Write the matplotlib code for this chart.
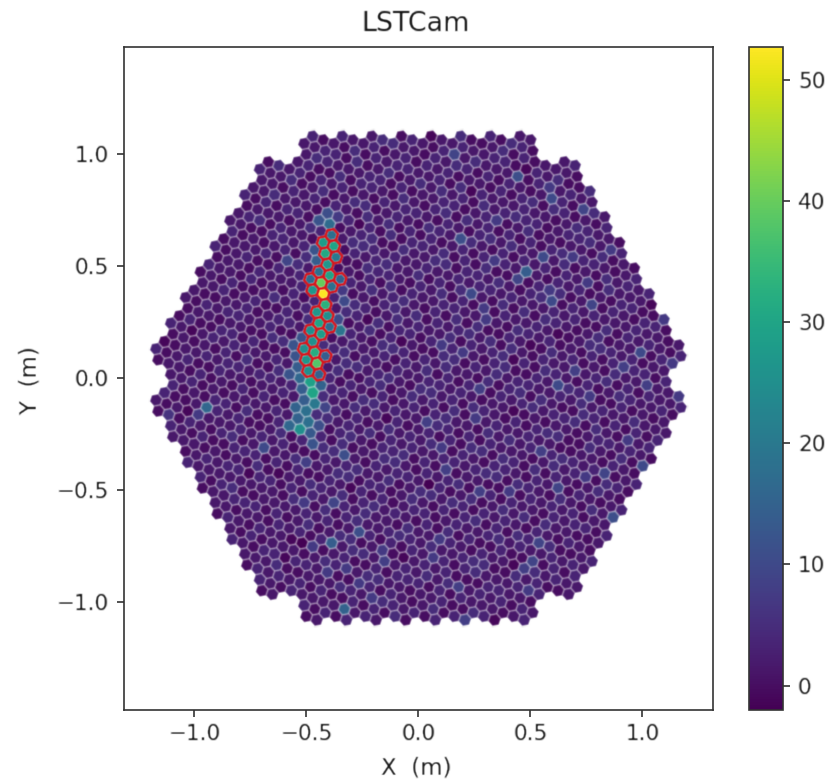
# LSTCam camera image: pixel charges on the hexagonal module layout
import numpy as np
import matplotlib
matplotlib.use("Agg")
import matplotlib.pyplot as plt
from matplotlib.collections import PatchCollection
from matplotlib.patches import RegularPolygon
from matplotlib.text import Text

# background charge per module row (top to bottom), 7 pixels per module, digit = charge / 1.6 + 2
row_p9 = "3424335 2534342 4253324 3342534 2435324 4325343 3524234 4233524"
row_p8 = ("3352433 4243352 2534243 3425324 5243342 3342435 4253342 2435433 "
          "3524324 4332524 3243352")
row_p7 = ("2433423 3342524 4253332 3524243 2434352 5324234 3453324 4235342 "
          "3342453 4523234 2434325 3352423")
row_p6 = ("3243342 2433524 3524233 4235342 3452434 5243325 2534342 4325243 "
          "3443524 2354324 4233452 3524234 2435343")
row_p5 = ("2332423 3423342 4234324 3542453 2453342 4325534 5342243 3524435 "
          "4253324 2435342 3342524 4523243 3254324 3423352")
row_p4 = ("3234233 2423342 3342423 4235334 3524253 2452343 4335425 5243324 "
          "3425342 4352434 2534253 3243524 4325243 2534342 3423234")
row_p3 = ("2423323 3324234 4232342 3342524 4253243 3524435 2435342 5342453 "
          "3453324 4235243 2534352 3342425 4253534 3524243 2435324 3243342")
row_p2 = ("3342423 2423234 3234342 4243325 3352424 4523342 3534243 2453524 "
          "4325342 3452435 5243253 2534324 4352343 3243452 2534235 3423324 4232433")
row_p1 = ("2323423 3432342 4243234 3324352 2435243 4353324 5243435 3452343 "
          "4235524 2534243 3342452 4525324 3243534 5324243 2453342 4332524 3243342 2432343")
row_0 = ("3423342 2342423 3234324 4352433 3524342 4253534 2435243 5342452 "
         "3453325 4235243 2534342 3425524 4352243 3243435 4523342 3342524 2433423")
row_m1 = ("2324324 3423234 4232443 3342352 2534243 4253425 3524342 5342534 "
          "3453243 4235324 2534452 3342243 4525342 3243534 5324325 2453243 3342423 3423342")
row_m2 = ("3242433 2433342 4324352 3542243 4253524 2435342 3524453 5342324 "
          "3453243 4235524 2534342 3342435 4523243 3254352 5324234 2453423 3332324")
row_m3 = ("3423243 2342334 4233425 3524342 2453243 4325534 3542324 5243453 "
          "3425342 4352243 2534524 3243342 4523435 3352243 2534324 3243423")
row_m4 = ("2433423 3324352 4252433 3524342 4353243 2435524 5243342 3342435 "
          "4523342 3254324 2534523 4325243 3243452 2534335 3423242")
row_m5 = ("3243324 4232433 3352342 2534243 4325324 5342453 3453243 2435342 "
          "4253524 3524243 3342435 4352324 2534342 3423234")
row_m6 = ("2423343 3342423 4253334 3524243 2435352 4523324 3342543 5243234 "
          "3425342 2534453 4352243 3243324 2433423")
row_m7 = ("3342324 2433452 3524243 4253342 3243524 5342234 2435343 4523324 "
          "3342452 2534243 4325324 3423243")
row_m8 = ("3243423 4232343 3524342 2453243 3342524 4253423 5324342 2435234 "
          "3452343 4235324 3342423")
row_m9 = "2433423 3342324 4253243 3423452 5243324 2534243 3243342 4323234"
module_rows = [row_p9, row_p8, row_p7, row_p6, row_p5, row_p4, row_p3, row_p2, row_p1, row_0,
               row_m1, row_m2, row_m3, row_m4, row_m5, row_m6, row_m7, row_m8, row_m9]
row_ids = list(range(9, -10, -1))

# selected (cleaned) pixels: module row, module in row, pixel in module, charge
core_pixels = [
    (6, 3, 6, 18), (5, 3, 2, 28), (5, 4, 4, 30), (5, 3, 1, 31), (5, 4, 5, 20), (4, 4, 3, 27),
    (4, 4, 4, 18), (4, 4, 0, 30), (4, 4, 1, 15), (4, 3, 1, 17), (4, 4, 5, 40), (4, 4, 6, 18),
    (3, 4, 3, 27), (3, 4, 2, 52.7), (3, 4, 1, 33), (3, 4, 6, 27), (2, 5, 3, 25), (2, 5, 4, 30),
    (2, 5, 0, 17), (2, 4, 1, 25), (2, 5, 5, 28), (1, 5, 3, 25), (1, 5, 4, 25), (1, 5, 0, 32),
    (1, 5, 1, 14), (1, 5, 5, 27), (1, 5, 6, 38), (0, 4, 2, 25), (0, 5, 4, 15),
]
# brighter pixels outside the selection
tail_pixels = [
    (6, 3, 0, 17), (6, 3, 3, 11), (6, 3, 4, 12), (6, 3, 2, 7), (5, 3, 0, 12), (5, 3, 6, 14),
    (5, 2, 6, 9), (3, 5, 0, 10), (3, 5, 3, 7), (2, 5, 1, 19), (2, 5, 2, 10), (2, 4, 6, 12),
    (1, 4, 2, 12), (1, 4, 1, 12), (0, 4, 3, 14), (0, 4, 4, 12), (0, 4, 1, 29), (-1, 5, 3, 30),
    (0, 5, 5, 15), (0, 4, 6, 14), (0, 4, 0, 16), (-1, 5, 0, 20), (-1, 5, 4, 14), (-1, 4, 1, 15),
    (-1, 5, 5, 18), (-1, 5, 1, 9), (-2, 4, 3, 15), (-2, 4, 2, 18), (-2, 4, 0, 25), (-2, 4, 4, 16),
    (-2, 4, 1, 13), (-2, 5, 4, 11), (-3, 4, 3, 12),
]
spot_pixels = [
    (-1, 1, 1, 16), (-1, 1, 6, 7), (-1, 0, 6, 6), (-3, 2, 2, 10), (-3, 5, 0, 11), (-3, 4, 5, 8),
    (-5, 4, 4, 9), (-5, 3, 4, 7), (-6, 4, 0, 11), (-6, 3, 6, 14), (-7, 2, 3, 7), (-7, 4, 1, 8),
    (-7, 4, 2, 7), (-8, 3, 0, 7), (-7, 3, 6, 7), (-8, 2, 3, 7), (-9, 1, 0, 15), (-9, 2, 3, 7),
    (9, 5, 5, 9), (8, 8, 1, 11), (7, 10, 0, 10), (7, 10, 3, 7), (7, 11, 6, 9), (5, 8, 3, 11),
    (6, 9, 4, 7), (5, 11, 5, 10), (5, 12, 5, 7), (5, 9, 6, 7), (4, 11, 4, 14), (4, 10, 1, 9),
    (3, 12, 3, 7), (3, 12, 0, 10), (3, 9, 2, 10), (3, 13, 1, 9), (3, 10, 5, 7), (2, 10, 2, 7),
    (2, 16, 2, 7), (1, 16, 0, 10), (0, 15, 3, 8), (1, 17, 6, 7), (0, 13, 2, 8), (1, 9, 2, 7),
    (1, 10, 0, 7), (4, 13, 5, 7), (5, 13, 0, 7), (0, 13, 5, 10), (0, 10, 6, 8), (0, 16, 5, 8),
    (-1, 17, 2, 7), (-1, 14, 2, 7), (-2, 8, 2, 8), (-2, 10, 3, 7), (-2, 15, 6, 7), (-3, 8, 2, 7),
    (-3, 12, 4, 8), (-4, 13, 2, 9), (-4, 13, 4, 7), (-3, 15, 6, 10), (-4, 8, 3, 8),
    (-4, 12, 5, 9), (-4, 9, 6, 8), (-4, 10, 6, 7), (-5, 13, 6, 11), (-6, 10, 6, 9),
    (-7, 9, 1, 9), (-7, 9, 6, 8), (-6, 7, 5, 7), (-7, 6, 0, 7), (-8, 6, 1, 8), (-9, 5, 6, 8),
    (-8, 9, 5, 7),
]
# the darkest pixels
dark_pixels = [
    (-1, 1, 5, -1), (-4, 1, 2, -1), (-4, 2, 2, -1), (-6, 2, 5, -1), (-6, 2, 6, -2), (-7, 1, 0, -1),
    (-4, 5, 5, -1), (-2, 7, 3, -1), (-7, 5, 0, -1), (-4, 7, 1, -2), (-1, 12, 5, -1), (-7, 9, 5, -1),
    (-9, 6, 6, -1), (9, 4, 3, -1), (7, 7, 2, -1), (3, 15, 1, -1), (2, 13, 5, -1), (1, 12, 2, -1),
    (1, 12, 5, -1), (8, 9, 4, -1), (2, 0, 1, -1), (1, 0, 3, -1), (6, 4, 0, -1), (2, 6, 2, -1),
    (1, 8, 3, -1),
]

PITCH = 0.05         # pixel spacing in m
ROT = np.radians(-19.107)  # lattice rotation of the camera
xticks = [-1.0, -0.5, 0.0, 0.5, 1.0]
yticks = [-1.0, -0.5, 0.0, 0.5, 1.0]
cticks = [0, 10, 20, 30, 40, 50]

plt.rcParams.update({
    "font.family": "DejaVu Sans", "font.size": 15.5, "axes.linewidth": 1.2,
    "xtick.major.size": 5.3, "ytick.major.size": 5.3,
    "xtick.major.width": 1.2, "ytick.major.width": 1.2,
    "xtick.major.pad": 5.2, "ytick.major.pad": 5.2,
    "text.color": "#111111", "axes.labelcolor": "#111111",
    "xtick.labelcolor": "#111111", "ytick.labelcolor": "#111111",
    "axes.edgecolor": "#333333", "xtick.color": "#333333", "ytick.color": "#333333",
})


def soften(image, dpi):
    # small blur, the reference is an upscaled screenshot
    pad = 2
    img = np.pad(image, ((pad, pad), (pad, pad), (0, 0)), mode="constant")
    kernel = np.array([0.2, 0.6, 0.2])
    img = np.apply_along_axis(lambda m: np.convolve(m, kernel, mode="same"), 0, img)
    img = np.apply_along_axis(lambda m: np.convolve(m, kernel, mode="same"), 1, img)
    return img, -pad, -pad


# camera layout: 265 modules of 7 pixels, a hexagon with its 6 corner modules left out
e1 = PITCH * np.sqrt(7) * np.array([1.0, 0.0])
e2 = PITCH * np.sqrt(7) * np.array([0.5, np.sqrt(3) / 2])
corners = {(-9, 9), (0, 9), (-9, 0), (9, 0), (0, -9), (9, -9)}
xs, ys, charge, index = [], [], [], {}
for j, row in zip(row_ids, module_rows):
    mods = [i for i in range(max(-9, -9 - j), min(9, 9 - j) + 1) if (i, j) not in corners]
    groups = row.split()
    assert len(groups) == len(mods), (j, len(groups), len(mods))
    for n, (i, digits) in enumerate(zip(mods, groups)):
        centre = i * e1 + j * e2
        for k in range(7):
            p = centre
            if k > 0:
                ang = ROT + (k - 1) * np.pi / 3
                p = centre + PITCH * np.array([np.cos(ang), np.sin(ang)])
            index[(j, n, k)] = len(xs)
            xs.append(p[0])
            ys.append(p[1])
            charge.append((int(digits[k]) - 2) * 1.6)
charge = np.array(charge)
for r, m, k, v in core_pixels + tail_pixels + spot_pixels + dark_pixels:
    charge[index[(r, m, k)]] = v


def hexes(ids):
    return [RegularPolygon((xs[a], ys[a]), 6, radius=PITCH / np.sqrt(3),
                           orientation=ROT + np.radians(30 - 90)) for a in ids]


fig = plt.figure(figsize=(8.31, 7.82), dpi=100)
W, H = 831.0, 782.0
ax = fig.add_axes([123.5 / W, 1 - 709.5 / H, 589.8 / W, 662.8 / H])
cax = fig.add_axes([749.3 / W, 1 - 709.8 / H, 34 / W, 662.8 / H])

cam = PatchCollection(hexes(range(len(xs))), cmap="viridis",
                      edgecolors=(1, 1, 1, 0.3), linewidths=1.1)
cam.set_array(charge)
cam.set_clim(charge.min(), charge.max())
cam.set_agg_filter(soften)
ax.add_collection(cam)

core_ids = [index[(r, m, k)] for r, m, k, v in core_pixels]
mask = PatchCollection(hexes(core_ids), facecolors="none", edgecolors="#d9141c", linewidths=1.8)
mask.set_agg_filter(soften)
ax.add_collection(mask)

ax.set_xlim(-1.317, 1.317)
ax.set_ylim(-1.48, 1.48)
ax.set_xticks(xticks)
ax.set_yticks(yticks)
ax.set_xlabel("X  (m)", labelpad=9, fontsize=16.5, x=0.496)
ax.set_ylabel("Y  (m)", labelpad=11, fontsize=16.5, y=0.497)
ax.set_title("LSTCam", fontsize=19.4, pad=11, x=0.495)

cb = fig.colorbar(cam, cax=cax)
cb.set_ticks(cticks)
cb.ax.tick_params(length=5.3, width=1.2, labelsize=15.5)
cb.outline.set_linewidth(1.2)
cb.outline.set_edgecolor("#333333")

for t in fig.findobj(Text):
    t.set_agg_filter(soften)

fig.savefig("out.png", dpi=100)
plt.close(fig)
